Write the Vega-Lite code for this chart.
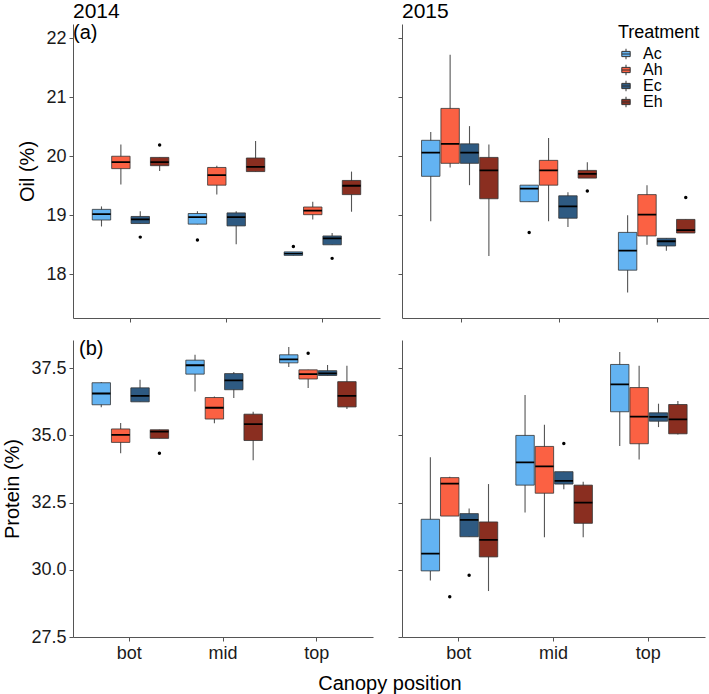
{
  "$schema": "https://vega.github.io/schema/vega-lite/v6.json",
  "padding": {"left": 2, "top": 1, "right": 0, "bottom": 0},
  "background": "white",
  "config": {
    "font": "Liberation Sans",
    "view": {"stroke": null},
    "axis": {
      "grid": false,
      "domainColor": "#555555",
      "domainWidth": 1,
      "tickColor": "#555555",
      "tickSize": 4,
      "tickWidth": 1,
      "labelFont": "Liberation Sans",
      "labelFontSize": 18,
      "labelColor": "#1a1a1a",
      "labelPadding": 3,
      "titleFont": "Liberation Sans",
      "titleFontSize": 20,
      "titleFontWeight": "normal",
      "titleColor": "black",
      "titlePadding": 8
    },
    "legend": {
      "titleFont": "Liberation Sans",
      "titleFontSize": 18,
      "titleFontWeight": "normal",
      "titleColor": "black",
      "labelFont": "Liberation Sans",
      "labelFontSize": 16,
      "labelColor": "black",
      "symbolType": "M-0.8,-0.5H0.8V0.5H-0.8Z M0,-0.5V-1 M0,0.5V1 M-0.8,0H0.8",
      "symbolSize": 110,
      "symbolStrokeColor": "#333333",
      "symbolStrokeWidth": 1,
      "symbolOpacity": 1,
      "rowPadding": 0,
      "labelOffset": 9,
      "titlePadding": 4
    },
    "title": {"font": "Liberation Sans", "fontWeight": "normal", "color": "black", "subtitleFont": "Liberation Sans", "subtitleColor": "black"}
  },
  "datasets": {
    "boxes": [
      {"var": "Oil", "year": 2014, "pos": "bot", "trt": "Ac", "lo": 18.81, "q1": 18.92, "med": 19.02, "q3": 19.10, "hi": 19.15},
      {"var": "Oil", "year": 2014, "pos": "bot", "trt": "Ah", "lo": 19.52, "q1": 19.79, "med": 19.90, "q3": 20.00, "hi": 20.20},
      {"var": "Oil", "year": 2014, "pos": "bot", "trt": "Ec", "lo": 18.86, "q1": 18.86, "med": 18.93, "q3": 18.98, "hi": 19.07},
      {"var": "Oil", "year": 2014, "pos": "bot", "trt": "Eh", "lo": 19.75, "q1": 19.84, "med": 19.90, "q3": 19.98, "hi": 19.98},
      {"var": "Oil", "year": 2014, "pos": "mid", "trt": "Ac", "lo": 18.85, "q1": 18.85, "med": 18.97, "q3": 19.03, "hi": 19.07},
      {"var": "Oil", "year": 2014, "pos": "mid", "trt": "Ah", "lo": 19.35, "q1": 19.51, "med": 19.68, "q3": 19.81, "hi": 19.84},
      {"var": "Oil", "year": 2014, "pos": "mid", "trt": "Ec", "lo": 18.51, "q1": 18.82, "med": 18.97, "q3": 19.04, "hi": 19.07},
      {"var": "Oil", "year": 2014, "pos": "mid", "trt": "Eh", "lo": 19.74, "q1": 19.74, "med": 19.82, "q3": 19.97, "hi": 20.26},
      {"var": "Oil", "year": 2014, "pos": "top", "trt": "Ac", "lo": 18.32, "q1": 18.32, "med": 18.35, "q3": 18.38, "hi": 18.38},
      {"var": "Oil", "year": 2014, "pos": "top", "trt": "Ah", "lo": 18.93, "q1": 19.01, "med": 19.08, "q3": 19.14, "hi": 19.23},
      {"var": "Oil", "year": 2014, "pos": "top", "trt": "Ec", "lo": 18.50, "q1": 18.50, "med": 18.61, "q3": 18.65, "hi": 18.70},
      {"var": "Oil", "year": 2014, "pos": "top", "trt": "Eh", "lo": 19.06, "q1": 19.35, "med": 19.50, "q3": 19.59, "hi": 19.74},
      {"var": "Oil", "year": 2015, "pos": "bot", "trt": "Ac", "lo": 18.90, "q1": 19.66, "med": 20.06, "q3": 20.27, "hi": 20.41},
      {"var": "Oil", "year": 2015, "pos": "bot", "trt": "Ah", "lo": 19.81, "q1": 19.88, "med": 20.21, "q3": 20.81, "hi": 21.72},
      {"var": "Oil", "year": 2015, "pos": "bot", "trt": "Ec", "lo": 19.51, "q1": 19.88, "med": 20.06, "q3": 20.21, "hi": 20.51},
      {"var": "Oil", "year": 2015, "pos": "bot", "trt": "Eh", "lo": 18.31, "q1": 19.28, "med": 19.76, "q3": 19.98, "hi": 20.20},
      {"var": "Oil", "year": 2015, "pos": "mid", "trt": "Ac", "lo": 19.23, "q1": 19.23, "med": 19.45, "q3": 19.51, "hi": 19.51},
      {"var": "Oil", "year": 2015, "pos": "mid", "trt": "Ah", "lo": 18.90, "q1": 19.51, "med": 19.76, "q3": 19.93, "hi": 20.31},
      {"var": "Oil", "year": 2015, "pos": "mid", "trt": "Ec", "lo": 18.80, "q1": 18.95, "med": 19.15, "q3": 19.33, "hi": 19.39},
      {"var": "Oil", "year": 2015, "pos": "mid", "trt": "Eh", "lo": 19.63, "q1": 19.63, "med": 19.70, "q3": 19.76, "hi": 19.90},
      {"var": "Oil", "year": 2015, "pos": "top", "trt": "Ac", "lo": 17.69, "q1": 18.07, "med": 18.40, "q3": 18.71, "hi": 19.00},
      {"var": "Oil", "year": 2015, "pos": "top", "trt": "Ah", "lo": 18.50, "q1": 18.65, "med": 19.01, "q3": 19.35, "hi": 19.51},
      {"var": "Oil", "year": 2015, "pos": "top", "trt": "Ec", "lo": 18.40, "q1": 18.48, "med": 18.56, "q3": 18.61, "hi": 18.61},
      {"var": "Oil", "year": 2015, "pos": "top", "trt": "Eh", "lo": 18.70, "q1": 18.70, "med": 18.75, "q3": 18.93, "hi": 18.93},
      {"var": "Protein", "year": 2014, "pos": "bot", "trt": "Ac", "lo": 36.05, "q1": 36.14, "med": 36.56, "q3": 36.96, "hi": 36.99},
      {"var": "Protein", "year": 2014, "pos": "bot", "trt": "Ah", "lo": 34.34, "q1": 34.74, "med": 35.02, "q3": 35.24, "hi": 35.46},
      {"var": "Protein", "year": 2014, "pos": "bot", "trt": "Ec", "lo": 36.25, "q1": 36.25, "med": 36.47, "q3": 36.77, "hi": 37.07},
      {"var": "Protein", "year": 2014, "pos": "bot", "trt": "Eh", "lo": 34.89, "q1": 34.89, "med": 35.14, "q3": 35.21, "hi": 35.21},
      {"var": "Protein", "year": 2014, "pos": "mid", "trt": "Ac", "lo": 36.63, "q1": 37.28, "med": 37.61, "q3": 37.80, "hi": 38.00},
      {"var": "Protein", "year": 2014, "pos": "mid", "trt": "Ah", "lo": 35.45, "q1": 35.61, "med": 36.03, "q3": 36.41, "hi": 36.45},
      {"var": "Protein", "year": 2014, "pos": "mid", "trt": "Ec", "lo": 36.39, "q1": 36.70, "med": 37.05, "q3": 37.30, "hi": 37.36},
      {"var": "Protein", "year": 2014, "pos": "mid", "trt": "Eh", "lo": 34.08, "q1": 34.81, "med": 35.42, "q3": 35.79, "hi": 35.88},
      {"var": "Protein", "year": 2014, "pos": "top", "trt": "Ac", "lo": 37.55, "q1": 37.70, "med": 37.83, "q3": 38.00, "hi": 38.29},
      {"var": "Protein", "year": 2014, "pos": "top", "trt": "Ah", "lo": 36.76, "q1": 37.10, "med": 37.28, "q3": 37.44, "hi": 37.44},
      {"var": "Protein", "year": 2014, "pos": "top", "trt": "Ec", "lo": 37.23, "q1": 37.23, "med": 37.31, "q3": 37.41, "hi": 37.62},
      {"var": "Protein", "year": 2014, "pos": "top", "trt": "Eh", "lo": 35.98, "q1": 36.06, "med": 36.47, "q3": 37.00, "hi": 37.59},
      {"var": "Protein", "year": 2015, "pos": "bot", "trt": "Ac", "lo": 29.60, "q1": 29.96, "med": 30.60, "q3": 31.88, "hi": 34.19},
      {"var": "Protein", "year": 2015, "pos": "bot", "trt": "Ah", "lo": 32.00, "q1": 32.00, "med": 33.21, "q3": 33.43, "hi": 33.46},
      {"var": "Protein", "year": 2015, "pos": "bot", "trt": "Ec", "lo": 31.23, "q1": 31.23, "med": 31.86, "q3": 32.09, "hi": 32.28},
      {"var": "Protein", "year": 2015, "pos": "bot", "trt": "Eh", "lo": 29.21, "q1": 30.48, "med": 31.11, "q3": 31.78, "hi": 33.19},
      {"var": "Protein", "year": 2015, "pos": "mid", "trt": "Ac", "lo": 32.13, "q1": 33.15, "med": 34.00, "q3": 35.00, "hi": 36.50},
      {"var": "Protein", "year": 2015, "pos": "mid", "trt": "Ah", "lo": 31.21, "q1": 32.85, "med": 33.85, "q3": 34.59, "hi": 35.40},
      {"var": "Protein", "year": 2015, "pos": "mid", "trt": "Ec", "lo": 33.00, "q1": 33.19, "med": 33.31, "q3": 33.65, "hi": 33.65},
      {"var": "Protein", "year": 2015, "pos": "mid", "trt": "Eh", "lo": 31.21, "q1": 31.73, "med": 32.50, "q3": 33.15, "hi": 33.28},
      {"var": "Protein", "year": 2015, "pos": "top", "trt": "Ac", "lo": 34.61, "q1": 35.88, "med": 36.90, "q3": 37.64, "hi": 38.10},
      {"var": "Protein", "year": 2015, "pos": "top", "trt": "Ah", "lo": 34.10, "q1": 34.69, "med": 35.70, "q3": 36.78, "hi": 37.59},
      {"var": "Protein", "year": 2015, "pos": "top", "trt": "Ec", "lo": 35.31, "q1": 35.53, "med": 35.69, "q3": 35.84, "hi": 36.18},
      {"var": "Protein", "year": 2015, "pos": "top", "trt": "Eh", "lo": 35.03, "q1": 35.06, "med": 35.60, "q3": 36.15, "hi": 36.28}
    ],
    "outliers": [
      {"var": "Oil", "year": 2014, "pos": "bot", "trt": "Ec", "value": 18.63},
      {"var": "Oil", "year": 2014, "pos": "bot", "trt": "Eh", "value": 20.19},
      {"var": "Oil", "year": 2014, "pos": "mid", "trt": "Ac", "value": 18.58},
      {"var": "Oil", "year": 2014, "pos": "top", "trt": "Ac", "value": 18.47},
      {"var": "Oil", "year": 2014, "pos": "top", "trt": "Ec", "value": 18.27},
      {"var": "Oil", "year": 2015, "pos": "mid", "trt": "Ac", "value": 18.71},
      {"var": "Oil", "year": 2015, "pos": "mid", "trt": "Eh", "value": 19.41},
      {"var": "Oil", "year": 2015, "pos": "top", "trt": "Eh", "value": 19.30},
      {"var": "Protein", "year": 2014, "pos": "bot", "trt": "Eh", "value": 34.34},
      {"var": "Protein", "year": 2014, "pos": "top", "trt": "Ah", "value": 38.06},
      {"var": "Protein", "year": 2015, "pos": "bot", "trt": "Ah", "value": 29.00},
      {"var": "Protein", "year": 2015, "pos": "bot", "trt": "Ec", "value": 29.80},
      {"var": "Protein", "year": 2015, "pos": "mid", "trt": "Ec", "value": 34.70}
    ]
  },
  "title": {"text": "Canopy position", "orient": "bottom", "anchor": "middle", "fontSize": 20, "offset": 12, "dx": 30},
  "bounds": "flush",
  "align": "all",
  "columns": 2,
  "spacing": {"row": 19, "column": 14},
  "resolve": {"scale": {"color": "independent"}, "legend": {"color": "independent"}},
  "concat": [
    {
      "width": 307, "height": 294,
      "title": {"text": "2014", "subtitle": " (a)", "anchor": "start", "frame": "group", "offset": -19, "fontSize": 21, "subtitleFontSize": 20, "subtitlePadding": 1},
      "encoding": {
        "x": {"field": "pos", "type": "nominal", "scale": {"domain": ["bot", "mid", "top"], "paddingInner": 0, "paddingOuter": 0.1}, "axis": {"labels": false, "title": null, "labelAngle": 0}},
        "xOffset": {"field": "trt", "type": "nominal", "scale": {"domain": ["Ac", "Ah", "Ec", "Eh"], "paddingInner": 0.05, "paddingOuter": 0.5}}
      },
      "layer": [
        {"data": {"name": "boxes"}, "transform": [{"filter": "datum.var === 'Oil' && datum.year === 2014"}],
         "mark": {"type": "rule", "color": "#555555", "strokeWidth": 1.1},
         "encoding": {"y": {"field": "lo", "type": "quantitative", "scale": {"domain": [17.26, 22.24], "nice": false, "zero": false}, "axis": {"values": [18, 19, 20, 21, 22], "format": "d", "title": "Oil (%)"}}, "y2": {"field": "hi"}}},
        {"data": {"name": "boxes"}, "transform": [{"filter": "datum.var === 'Oil' && datum.year === 2014"}],
         "mark": {"type": "bar", "stroke": "#333333", "strokeWidth": 0.8},
         "encoding": {"y": {"field": "q1", "type": "quantitative", "scale": {"domain": [17.26, 22.24], "nice": false, "zero": false}}, "y2": {"field": "q3"},
           "color": {"field": "trt", "type": "nominal", "scale": {"domain": ["Ac", "Ah", "Ec", "Eh"], "range": ["#63B3F2", "#FB6143", "#2E5A82", "#8A2E20"]}, "legend": null}}},
        {"data": {"name": "boxes"}, "transform": [{"filter": "datum.var === 'Oil' && datum.year === 2014"}],
         "mark": {"type": "bar", "fill": "black", "stroke": "black", "strokeWidth": 1.8},
         "encoding": {"y": {"field": "med", "type": "quantitative", "scale": {"domain": [17.26, 22.24], "nice": false, "zero": false}}, "y2": {"field": "med"}}},
        {"data": {"name": "outliers"}, "transform": [{"filter": "datum.var === 'Oil' && datum.year === 2014"}],
         "mark": {"type": "point", "filled": true, "color": "black", "size": 12, "opacity": 1},
         "encoding": {"y": {"field": "value", "type": "quantitative", "scale": {"domain": [17.26, 22.24], "nice": false, "zero": false}}}}
      ]
    },
    {
      "width": 315, "height": 294,
      "title": {"text": "2015", "anchor": "start", "frame": "group", "offset": 2, "fontSize": 21},
      "encoding": {
        "x": {"field": "pos", "type": "nominal", "scale": {"domain": ["bot", "mid", "top"], "paddingInner": 0, "paddingOuter": 0.1}, "axis": {"labels": false, "title": null, "labelAngle": 0}},
        "xOffset": {"field": "trt", "type": "nominal", "scale": {"domain": ["Ac", "Ah", "Ec", "Eh"], "paddingInner": 0.05, "paddingOuter": 0.5}}
      },
      "layer": [
        {"data": {"name": "boxes"}, "transform": [{"filter": "datum.var === 'Oil' && datum.year === 2015"}],
         "mark": {"type": "rule", "color": "#555555", "strokeWidth": 1.1},
         "encoding": {"y": {"field": "lo", "type": "quantitative", "scale": {"domain": [17.26, 22.24], "nice": false, "zero": false}, "axis": {"values": [18, 19, 20, 21, 22], "title": null, "labels": false}}, "y2": {"field": "hi"}}},
        {"data": {"name": "boxes"}, "transform": [{"filter": "datum.var === 'Oil' && datum.year === 2015"}],
         "mark": {"type": "bar", "stroke": "#333333", "strokeWidth": 0.8},
         "encoding": {"y": {"field": "q1", "type": "quantitative", "scale": {"domain": [17.26, 22.24], "nice": false, "zero": false}}, "y2": {"field": "q3"},
           "color": {"field": "trt", "type": "nominal", "title": "Treatment", "scale": {"domain": ["Ac", "Ah", "Ec", "Eh"], "range": ["#63B3F2", "#FB6143", "#2E5A82", "#8A2E20"]}, "legend": {"orient": "none", "legendX": 216, "legendY": 0}}}},
        {"data": {"name": "boxes"}, "transform": [{"filter": "datum.var === 'Oil' && datum.year === 2015"}],
         "mark": {"type": "bar", "fill": "black", "stroke": "black", "strokeWidth": 1.8},
         "encoding": {"y": {"field": "med", "type": "quantitative", "scale": {"domain": [17.26, 22.24], "nice": false, "zero": false}}, "y2": {"field": "med"}}},
        {"data": {"name": "outliers"}, "transform": [{"filter": "datum.var === 'Oil' && datum.year === 2015"}],
         "mark": {"type": "point", "filled": true, "color": "black", "size": 12, "opacity": 1},
         "encoding": {"y": {"field": "value", "type": "quantitative", "scale": {"domain": [17.26, 22.24], "nice": false, "zero": false}}}}
      ]
    },
    {
      "width": 300, "height": 297,
      "title": {"text": "(b)", "anchor": "start", "frame": "group", "offset": -19, "fontSize": 20, "dx": 6},
      "encoding": {
        "x": {"field": "pos", "type": "nominal", "scale": {"domain": ["bot", "mid", "top"], "paddingInner": 0, "paddingOuter": 0.1}, "axis": {"title": null, "labelAngle": 0}},
        "xOffset": {"field": "trt", "type": "nominal", "scale": {"domain": ["Ac", "Ah", "Ec", "Eh"], "paddingInner": 0.05, "paddingOuter": 0.5}}
      },
      "layer": [
        {"data": {"name": "boxes"}, "transform": [{"filter": "datum.var === 'Protein' && datum.year === 2014"}],
         "mark": {"type": "rule", "color": "#555555", "strokeWidth": 1.1},
         "encoding": {"y": {"field": "lo", "type": "quantitative", "scale": {"domain": [27.5, 38.55], "nice": false, "zero": false}, "axis": {"values": [27.5, 30, 32.5, 35, 37.5], "format": ".1f", "title": "Protein (%)"}}, "y2": {"field": "hi"}}},
        {"data": {"name": "boxes"}, "transform": [{"filter": "datum.var === 'Protein' && datum.year === 2014"}],
         "mark": {"type": "bar", "stroke": "#333333", "strokeWidth": 0.8},
         "encoding": {"y": {"field": "q1", "type": "quantitative", "scale": {"domain": [27.5, 38.55], "nice": false, "zero": false}}, "y2": {"field": "q3"},
           "color": {"field": "trt", "type": "nominal", "scale": {"domain": ["Ac", "Ah", "Ec", "Eh"], "range": ["#63B3F2", "#FB6143", "#2E5A82", "#8A2E20"]}, "legend": null}}},
        {"data": {"name": "boxes"}, "transform": [{"filter": "datum.var === 'Protein' && datum.year === 2014"}],
         "mark": {"type": "bar", "fill": "black", "stroke": "black", "strokeWidth": 1.8},
         "encoding": {"y": {"field": "med", "type": "quantitative", "scale": {"domain": [27.5, 38.55], "nice": false, "zero": false}}, "y2": {"field": "med"}}},
        {"data": {"name": "outliers"}, "transform": [{"filter": "datum.var === 'Protein' && datum.year === 2014"}],
         "mark": {"type": "point", "filled": true, "color": "black", "size": 12, "opacity": 1},
         "encoding": {"y": {"field": "value", "type": "quantitative", "scale": {"domain": [27.5, 38.55], "nice": false, "zero": false}}}}
      ]
    },
    {
      "width": 303, "height": 297,
      "encoding": {
        "x": {"field": "pos", "type": "nominal", "scale": {"domain": ["bot", "mid", "top"], "paddingInner": 0, "paddingOuter": 0.1}, "axis": {"title": null, "labelAngle": 0}},
        "xOffset": {"field": "trt", "type": "nominal", "scale": {"domain": ["Ac", "Ah", "Ec", "Eh"], "paddingInner": 0.05, "paddingOuter": 0.5}}
      },
      "layer": [
        {"data": {"name": "boxes"}, "transform": [{"filter": "datum.var === 'Protein' && datum.year === 2015"}],
         "mark": {"type": "rule", "color": "#555555", "strokeWidth": 1.1},
         "encoding": {"y": {"field": "lo", "type": "quantitative", "scale": {"domain": [27.5, 38.55], "nice": false, "zero": false}, "axis": {"values": [27.5, 30, 32.5, 35, 37.5], "title": null, "labels": false}}, "y2": {"field": "hi"}}},
        {"data": {"name": "boxes"}, "transform": [{"filter": "datum.var === 'Protein' && datum.year === 2015"}],
         "mark": {"type": "bar", "stroke": "#333333", "strokeWidth": 0.8},
         "encoding": {"y": {"field": "q1", "type": "quantitative", "scale": {"domain": [27.5, 38.55], "nice": false, "zero": false}}, "y2": {"field": "q3"},
           "color": {"field": "trt", "type": "nominal", "scale": {"domain": ["Ac", "Ah", "Ec", "Eh"], "range": ["#63B3F2", "#FB6143", "#2E5A82", "#8A2E20"]}, "legend": null}}},
        {"data": {"name": "boxes"}, "transform": [{"filter": "datum.var === 'Protein' && datum.year === 2015"}],
         "mark": {"type": "bar", "fill": "black", "stroke": "black", "strokeWidth": 1.8},
         "encoding": {"y": {"field": "med", "type": "quantitative", "scale": {"domain": [27.5, 38.55], "nice": false, "zero": false}}, "y2": {"field": "med"}}},
        {"data": {"name": "outliers"}, "transform": [{"filter": "datum.var === 'Protein' && datum.year === 2015"}],
         "mark": {"type": "point", "filled": true, "color": "black", "size": 12, "opacity": 1},
         "encoding": {"y": {"field": "value", "type": "quantitative", "scale": {"domain": [27.5, 38.55], "nice": false, "zero": false}}}}
      ]
    }
  ]
}
